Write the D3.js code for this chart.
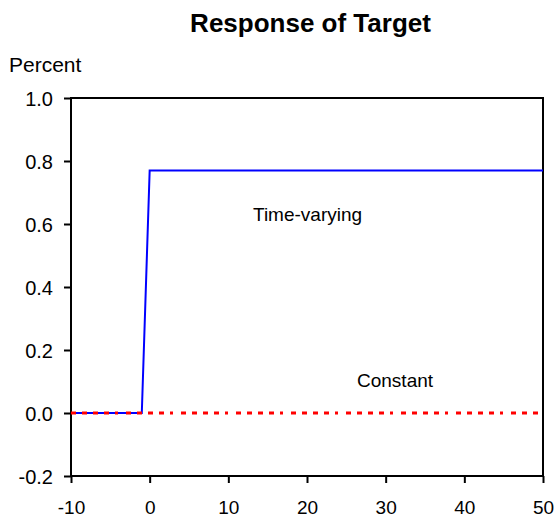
<!DOCTYPE html>
<html><head><meta charset="utf-8">
<script src="https://cdn.jsdelivr.net/npm/d3@7"></script>
<style>body{margin:0;background:#fff}svg{display:block}text{font-family:"Liberation Sans",Arial,sans-serif}</style>
</head><body>
<svg id="c" width="556" height="518"></svg>
<script>
const periods = d3.range(-10, 51);
const timeVarying = periods.map(t => t < 0 ? 0 : 0.77);
const constant = periods.map(t => 0);
const xTicks = [-10, 0, 10, 20, 30, 40, 50];
const yTicks = [-0.2, 0.0, 0.2, 0.4, 0.6, 0.8, 1.0];

const svg = d3.select("#c");
const m = {l: 71, r: 543, t: 98, b: 476};
const x = d3.scaleLinear().domain([-10, 50]).range([m.l, m.r]);
const y = d3.scaleLinear().domain([-0.2, 1.0]).range([m.b, m.t]);

// frame
svg.append("rect").attr("x", m.l).attr("y", m.t).attr("width", m.r - m.l).attr("height", m.b - m.t)
  .attr("fill", "none").attr("stroke", "#000").attr("stroke-width", 2);

// x axis
const xa = svg.append("g").attr("transform", `translate(0,${m.b})`);
xa.call(d3.axisBottom(x).tickValues(d3.range(-10, 51, 5)).tickSize(7).tickFormat(""));
xa.call(d3.axisBottom(x).tickValues(xTicks).tickSize(7).tickFormat(d => String(d)));
xa.selectAll(".domain").remove();
xa.selectAll("line").attr("stroke-width", 2);
xa.selectAll("text").attr("font-size", 19).attr("fill", "#000").attr("y", 38).attr("dy", 0);

const ya = svg.append("g").attr("transform", `translate(${m.l},0)`);
ya.call(d3.axisLeft(y).tickValues(d3.range(-2, 11).map(v => v / 10)).tickSize(5).tickFormat(""));
ya.call(d3.axisLeft(y).tickValues(yTicks).tickSize(7).tickPadding(11).tickFormat(d => d.toFixed(1)));
ya.selectAll(".domain").remove();
ya.selectAll("line").attr("stroke-width", 2);
ya.selectAll("text").attr("font-size", 20).attr("fill", "#000").attr("dy", "0.36em");

const line = d3.line().x((d, i) => x(periods[i])).y(d => y(d));
svg.append("path").datum(timeVarying).attr("d", line).attr("fill", "none")
  .attr("stroke", "#0000ff").attr("stroke-width", 2);
svg.append("path").datum(constant).attr("d", line).attr("fill", "none")
  .attr("stroke", "#ff0000").attr("stroke-width", 3).attr("stroke-dasharray", "5,6,5,6,5,6,5,6,3,8");

svg.append("text").attr("x", 310.5).attr("y", 32).attr("text-anchor", "middle")
  .attr("font-size", 26).attr("font-weight", "bold").text("Response of Target");
svg.append("text").attr("x", 9).attr("y", 72).attr("font-size", 21).text("Percent");
svg.append("text").attr("x", 253).attr("y", 221).attr("font-size", 19).text("Time-varying");
svg.append("text").attr("x", 357).attr("y", 387).attr("font-size", 19).text("Constant");
</script>
</body></html>
